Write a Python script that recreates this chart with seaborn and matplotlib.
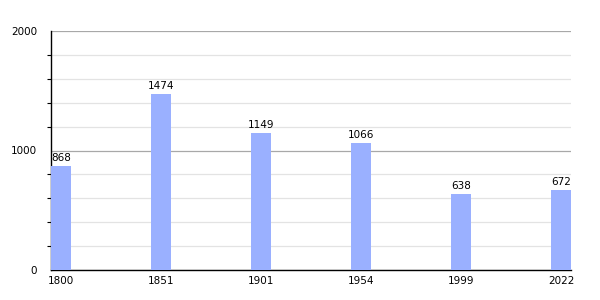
import matplotlib
matplotlib.use("Agg")
import matplotlib.pyplot as plt
from matplotlib.ticker import MultipleLocator
import seaborn as sns
import pandas as pd

years = ["1800", "1851", "1901", "1954", "1999", "2022"]
population = [868, 1474, 1149, 1066, 638, 672]
y_ticks = [0, 1000, 2000]

sns.set_theme(style="white")
plt.rcParams['font.family'] = ['DejaVu Sans']

df = pd.DataFrame({"year": years, "pop": population})

fig = plt.figure(figsize=(6, 3), dpi=100)
ax = fig.add_axes([51/600, 30/300, 520/600, 239/300])

sns.barplot(data=df, x="year", y="pop", order=years, color="#9ab0ff",
            saturation=1, width=0.2, ax=ax, zorder=3, linewidth=0, edgecolor="none")

ax.set_xlim(-0.1, 5.1)
ax.set_ylim(0, 2000)
ax.set_yticks(y_ticks)
ax.yaxis.set_minor_locator(MultipleLocator(200))
ax.grid(True, which="major", axis="y", color="#a8a8a8", linewidth=0.9, zorder=0)
ax.grid(True, which="minor", axis="y", color="#e3e3e3", linewidth=0.9, zorder=0)
ax.set_axisbelow(True)

for s in ["top", "right"]:
    ax.spines[s].set_visible(False)
for s in ["left", "bottom"]:
    ax.spines[s].set_color("black")
    ax.spines[s].set_linewidth(1.0)

ax.tick_params(axis="y", which="major", length=0, pad=10, labelsize=7.5, labelcolor="black")
ax.tick_params(axis="y", which="minor", length=3, width=0.8, color="black", left=True, direction="out")
ax.tick_params(axis="x", length=0, pad=4, labelsize=7.5, labelcolor="black")
ax.set_xlabel("")
ax.set_ylabel("")

for c in ax.containers:
    ax.bar_label(c, labels=[str(v) for v in population], padding=2, fontsize=7.5, color="black")

fig.savefig("out.png", dpi=100)
